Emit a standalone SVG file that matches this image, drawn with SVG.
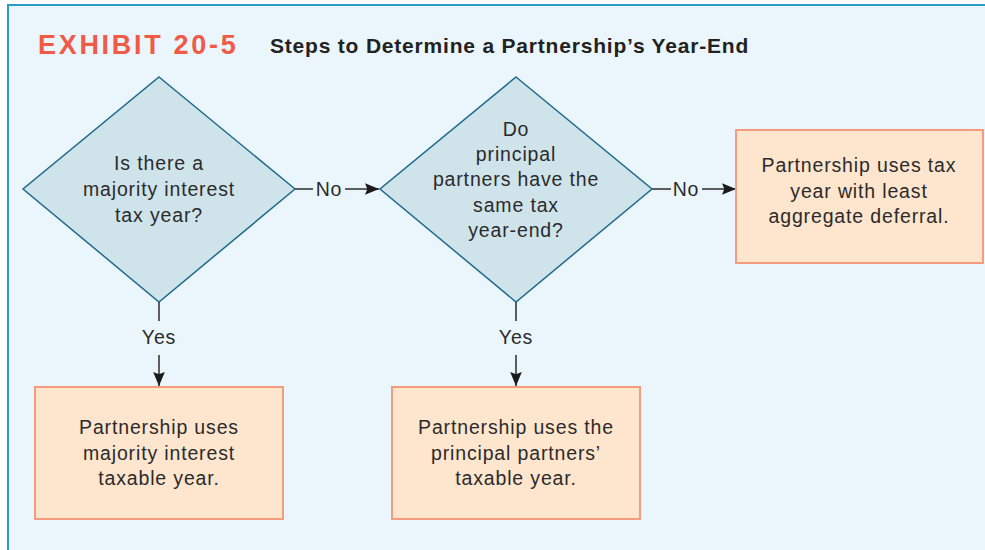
<svg xmlns="http://www.w3.org/2000/svg" width="985" height="550" viewBox="0 0 985 550">
<defs>
<style>
.t{font-family:"Liberation Sans",Arial,sans-serif;font-size:19.5px;fill:#2b2b2b;text-anchor:middle;letter-spacing:0.85px}
.d{fill:#CFE3EB;stroke:#1F6A8A;stroke-width:1.5}
.b{fill:#FDE5CE;stroke:#F39C7E;stroke-width:2}
.c{stroke:#2b2b2b;stroke-width:1.5;fill:none}
</style>
<marker id="ah" viewBox="0 0 12 10" refX="12" refY="5" markerWidth="14" markerHeight="12" markerUnits="userSpaceOnUse" orient="auto">
<path d="M0,0 L12,5 L0,10 L2,5 z" fill="#1a1a1a"/>
</marker>
</defs>
<rect x="0" y="0" width="985" height="550" fill="#ffffff"/>
<rect x="8" y="5" width="990" height="560" fill="#EAF6FC" stroke="#2A9CC6" stroke-width="2"/>
<g id="title">
<text x="38" y="54" font-family="Liberation Sans,Arial,sans-serif" font-weight="bold" font-size="27" fill="#F05A47" letter-spacing="2.7">EXHIBIT 20-5</text>
<text x="270" y="53" font-family="Liberation Sans,Arial,sans-serif" font-weight="bold" font-size="21" fill="#222" letter-spacing="0.8">Steps to Determine a Partnership’s Year-End</text>
</g>
<g id="connectors">
<line class="c" x1="295" y1="189" x2="313" y2="189"/>
<text class="t" x="329" y="196">No</text>
<line class="c" x1="345" y1="189" x2="379" y2="189" marker-end="url(#ah)"/>
<line class="c" x1="652" y1="189" x2="671" y2="189"/>
<text class="t" x="686" y="196">No</text>
<line class="c" x1="702" y1="189" x2="736" y2="189" marker-end="url(#ah)"/>
<line class="c" x1="159" y1="302" x2="159" y2="321"/>
<text class="t" x="159" y="344">Yes</text>
<line class="c" x1="159" y1="355" x2="159" y2="386" marker-end="url(#ah)"/>
<line class="c" x1="516" y1="302" x2="516" y2="321"/>
<text class="t" x="516" y="344">Yes</text>
<line class="c" x1="516" y1="355" x2="516" y2="386" marker-end="url(#ah)"/>
</g>
<g id="q1">
<polygon class="d" points="159,77 295,189 159,302 23,189"/>
<text class="t" x="159" y="170">Is there a</text>
<text class="t" x="159" y="196">majority interest</text>
<text class="t" x="159" y="222">tax year?</text>
</g>
<g id="q2">
<polygon class="d" points="516,77 652,189 516,302 380,189"/>
<text class="t" x="516" y="136">Do</text>
<text class="t" x="516" y="161">principal</text>
<text class="t" x="516" y="186">partners have the</text>
<text class="t" x="516" y="212">same tax</text>
<text class="t" x="516" y="237">year-end?</text>
</g>
<g id="r3">
<rect class="b" x="736" y="130" width="247" height="133"/>
<text class="t" x="859" y="172">Partnership uses tax</text>
<text class="t" x="859" y="198">year with least</text>
<text class="t" x="859" y="223">aggregate deferral.</text>
</g>
<g id="r1">
<rect class="b" x="35" y="387" width="248" height="132"/>
<text class="t" x="159" y="434">Partnership uses</text>
<text class="t" x="159" y="460">majority interest</text>
<text class="t" x="159" y="485">taxable year.</text>
</g>
<g id="r2">
<rect class="b" x="392" y="387" width="248" height="132"/>
<text class="t" x="516" y="434">Partnership uses the</text>
<text class="t" x="516" y="460">principal partners’</text>
<text class="t" x="516" y="485">taxable year.</text>
</g>
</svg>
